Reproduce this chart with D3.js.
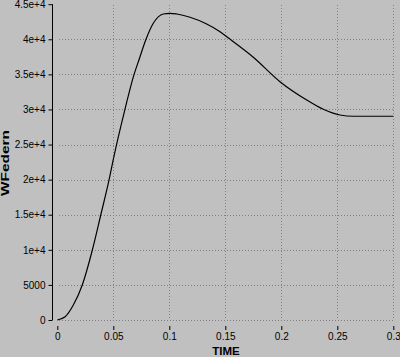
<!DOCTYPE html>
<html><head><meta charset="utf-8">
<script src="https://cdn.jsdelivr.net/npm/d3@7"></script>
<style>
html,body{margin:0;padding:0;background:#c0c0c0;}
svg{display:block;}
text{font-family:"Liberation Sans",Arial,sans-serif;}
</style></head>
<body>
<svg id="chart" width="400" height="357"></svg>
<script>
const time = [0, 0.007, 0.0143, 0.0223, 0.0313, 0.0388, 0.0462, 0.05, 0.0604, 0.0679, 0.0732, 0.0792, 0.0857, 0.0946, 0.1006, 0.1066, 0.1185, 0.1334, 0.1446, 0.1513, 0.175, 0.1988, 0.2227, 0.2375, 0.2524, 0.2643, 0.3];
const wfedern = [0, 470, 2140, 4990, 9975, 14960, 19950, 22900, 30025, 34650, 37200, 40000, 42280, 43605, 43705, 43605, 43135, 42180, 41150, 40350, 37435, 33960, 31350, 30025, 29210, 29030, 29030];
const xTicks = [0, 0.05, 0.1, 0.15, 0.2, 0.25, 0.3];
const xTickLabels = ["0", "0.05", "0.1", "0.15", "0.2", "0.25", "0.3"];
const yTicks = [0, 5000, 10000, 15000, 20000, 25000, 30000, 35000, 40000, 45000];
const yTickLabels = ["0", "5000", "1e+4", "1.5e+4", "2e+4", "2.5e+4", "3e+4", "3.5e+4", "4e+4", "4.5e+4"];

const svg = d3.select("#chart");
const x = d3.scaleLinear().domain([0, 0.3]).range([57.3, 393.3]);
const y = d3.scaleLinear().domain([0, 45000]).range([320, 4.2]);

// grid
const grid = svg.append("g").attr("stroke", "#808080").attr("stroke-dasharray", "1,2").attr("stroke-width", 1);
grid.selectAll("line.h").data(yTicks.filter(d => d < 45000)).enter().append("line")
  .attr("x1", 59).attr("x2", 393.5)
  .attr("y1", d => Math.round(y(d)) + 0.5).attr("y2", d => Math.round(y(d)) + 0.5);
grid.selectAll("line.v").data(xTicks.filter(d => d > 0)).enter().append("line")
  .attr("x1", d => Math.round(x(d)) + 0.5).attr("x2", d => Math.round(x(d)) + 0.5)
  .attr("y1", 5).attr("y2", 320);

// y axis
const yAxis = d3.axisLeft(y).tickValues(yTicks).tickSize(4).tickPadding(3)
  .tickFormat((d, i) => yTickLabels[i]);
const gy = svg.append("g").attr("transform", "translate(52.5,0)").call(yAxis);
gy.select(".domain").attr("stroke", "#000").attr("d", "M0," + y(45000) + "V" + y(0));
gy.selectAll(".tick line").attr("stroke", "#000");
gy.selectAll(".tick text").attr("font-size", "10px").attr("fill", "#000")
  .attr("font-family", "Liberation Sans, Arial, sans-serif");

// x axis (ticks only)
const xAxis = d3.axisBottom(x).tickValues(xTicks).tickSize(4).tickPadding(3)
  .tickFormat((d, i) => xTickLabels[i]);
const gx = svg.append("g").attr("transform", "translate(0,326)").call(xAxis);
gx.select(".domain").remove();
gx.selectAll(".tick line").attr("stroke", "#000");
gx.selectAll(".tick text").attr("font-size", "10px").attr("fill", "#000")
  .attr("font-family", "Liberation Sans, Arial, sans-serif");

// line
const line = d3.line().x((d, i) => x(time[i])).y(d => y(d)).curve(d3.curveMonotoneX);
svg.append("path").datum(wfedern).attr("d", line)
  .attr("fill", "none").attr("stroke", "#000").attr("stroke-width", 1.2);

// axis titles
svg.append("text").attr("x", 226).attr("y", 355).attr("text-anchor", "middle")
  .attr("font-size", "11.5px").attr("font-weight", "bold").text("TIME");
svg.append("text").attr("transform", "translate(9,163) rotate(-90)").attr("text-anchor", "middle")
  .attr("font-size", "11.5px").attr("font-weight", "bold")
  .attr("textLength", 66).attr("lengthAdjust", "spacingAndGlyphs").text("WFedern");
</script>
</body></html>
